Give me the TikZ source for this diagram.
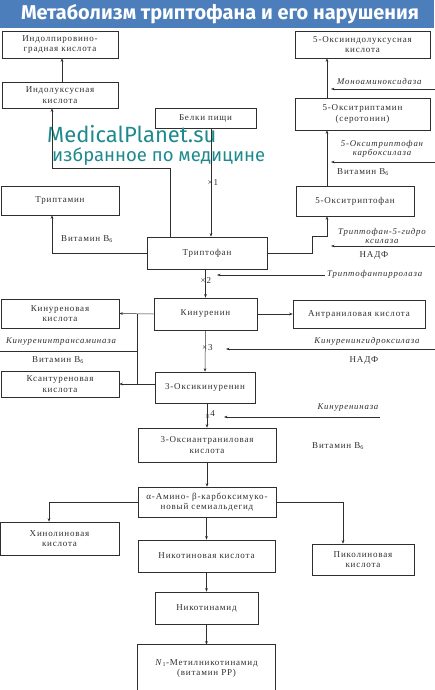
\documentclass[tikz,border=0pt]{standalone}
\usepackage{fontspec}
\usepackage{graphicx}
\setmainfont{Liberation Serif}[LetterSpace=9]
\newfontfamily\titlefont{Fira Sans}
\newfontfamily\wmfont{Fira Sans}
\usetikzlibrary{arrows.meta}
\definecolor{banner}{HTML}{4C7EBC}
\definecolor{ink}{HTML}{2E2E2E}
\definecolor{wm}{HTML}{1E8A8E}
\tikzset{
  box/.style={draw=ink, line width=0.6pt, align=center, inner sep=1pt,
    font=\fontsize{9}{10.5}\selectfont, text=ink},
  conn/.style={draw=ink, line width=0.5pt},
  arr/.style={conn, -{Stealth[length=3.5pt,width=2.6pt]}},
  enz/.style={font=\fontsize{8.8}{9}\selectfont\itshape, text=ink, inner sep=0pt, align=center},
  note/.style={font=\fontsize{9}{10}\selectfont, text=ink, inner sep=0pt, align=center},
  xlab/.style={font=\fontsize{9}{10}\selectfont, text=ink, inner sep=0pt, anchor=west},
}
\begin{document}
\begin{tikzpicture}[x=1pt,y=-1pt]
\useasboundingbox (0,0) rectangle (434,690);
% banner
\fill[banner] (0,0) rectangle (434,28);
\node[text=white, inner sep=0pt] (title) at (220,14)
  {\resizebox{398pt}{!}{\titlefont\bfseries Метаболизм триптофана и его нарушения}};

% boxes
\node[box, minimum width=116pt, minimum height=27pt] (ipvk) at (60,44.5) {Индолпировино-\\градная кислота};
\node[box, minimum width=116pt, minimum height=26pt] (iuk) at (60,95) {Индолуксусная\\кислота};
\node[box, minimum width=101pt, minimum height=20pt] (belki) at (205.5,118) {Белки пищи};
\node[box, minimum width=135pt, minimum height=27pt] (oiuk) at (362.5,44.5) {5-Оксииндолуксусная\\кислота};
\node[box, minimum width=135pt, minimum height=32pt] (otam) at (362.5,114) {5-Окситриптамин\\(серотонин)};
\node[box, minimum width=118pt, minimum height=30pt] (otf) at (355,201) {5-Окситриптофан};
\node[box, minimum width=118pt, minimum height=29pt] (tam) at (60,200.5) {Триптамин};
\node[box, minimum width=120pt, minimum height=32pt] (trp) at (207,253) {Триптофан};
\node[box, minimum width=103pt, minimum height=32pt] (kin) at (205.5,314) {Кинуренин};
\node[box, minimum width=118pt, minimum height=29pt] (kinac) at (60,313.5) {Кинуреновая\\кислота};
\node[box, minimum width=132pt, minimum height=28pt] (antr) at (359,314) {Антраниловая кислота};
\node[box, minimum width=118pt, minimum height=26pt] (xant) at (60,384) {Ксантуреновая\\кислота};
\node[box, minimum width=100pt, minimum height=31pt] (okin) at (205,387.5) {3-Оксикинуренин};
\node[box, minimum width=138pt, minimum height=34pt] (oant) at (207,445) {3-Оксиантраниловая\\кислота};
\node[box, minimum width=138pt, minimum height=30pt] (amino) at (207,502) {α-Амино- β-карбоксимуко-\\новый семиальдегид};
\node[box, minimum width=119pt, minimum height=33pt] (hin) at (59.5,538.5) {Хинолиновая\\кислота};
\node[box, minimum width=137pt, minimum height=32pt] (nik) at (206.5,556) {Никотиновая кислота};
\node[box, minimum width=102pt, minimum height=31pt] (pik) at (363,559.5) {Пиколиновая\\кислота};
\node[box, minimum width=103pt, minimum height=32pt] (nikam) at (206.5,608) {Никотинамид};
\node[box, draw=none, minimum width=137pt, minimum height=47pt] (metnik) at (206.5,668.5)
  {\textit{N}\textsubscript{1}-Метилникотинамид\\(витамин PP)};
\draw[conn, line width=0.6pt] (metnik.south west) -- (metnik.north west) -- (metnik.north east) -- (metnik.south east);

% watermark
\node[text=wm, inner sep=0pt, anchor=west] (wm1) at (47,134) {\wmfont\fontsize{22}{23}\selectfont MedicalPlanet.su};
\node[text=wm, inner sep=0pt, anchor=west] (wm2) at (52,157) {\wmfont\fontsize{18.5}{19}\selectfont избранное по медицине};

% helper coordinates
\coordinate (jL) at (52,168);
\coordinate (jR) at (170,168);
\coordinate (cx) at (211,0);
\coordinate (c62) at (62,0);
\coordinate (r1) at (312,236);
\coordinate (r2) at (327,236);
\coordinate (k1) at (137,314);
\coordinate (k2) at (137,384);
\coordinate (h1) at (49,0);
\coordinate (p1) at (343,0);

% ---- left branch
\draw[arr] (iuk.north -| c62) -- (ipvk.south -| c62);
\draw[arr] (trp.north -| jR) -- (jR) -- (jL) -- (iuk.south -| jL);
\draw[arr] (trp.west) -- (trp.west -| jL) -- (tam.south -| jL);
\node[note] (vb1) at (87,239) {Витамин B\textsubscript{6}};
\draw[arr] (belki.south -| cx) -- (trp.north -| cx);
\node[xlab] (x1) at (207.5,183) {×1};

% ---- right branch
\draw[arr] (trp.east) -- (trp.east -| r1) -- (r1) -- (r2) -- (otf.south -| r2);
\draw[arr] (otf.north -| r2) -- (otam.south -| r2);
\draw[arr] (otam.north -| r2) -- (oiuk.south -| r2);
% enzymes right
\coordinate (e1a) at (436,89); \coordinate (e1b) at (331,89);
\draw[arr] (e1a) -- (e1b);
\node[enz, anchor=west] (en1) at (337,81) {Моноаминоксидаза};
\node[enz] (en2) at (382,149) {5-Окситриптофан\\карбоксилаза};
\coordinate (e2a) at (436,162); \coordinate (e2b) at (331,162);
\draw[arr] (e2a) -- (e2b);
\node[note] (vb2) at (363,172) {Витамин B\textsubscript{6}};
\node[enz] (en3) at (382,236) {Триптофан-5-гидро\\ксилаза};
\coordinate (e3a) at (436,246); \coordinate (e3b) at (331,246);
\draw[arr] (e3a) -- (e3b);
\node[note] (nadf1) at (374,255) {НАДФ};

% ---- kynurenine
\draw[arr] (trp.south -| kin.north) -- (kin.north);
\node[xlab] (x2) at (200.5,281) {×2};
\coordinate (e4a) at (325,275); \coordinate (e4b) at (217,275);
\draw[arr] (e4a) -- (e4b);
\node[enz, anchor=west] (en4) at (327,274) {Триптофанпирролаза};
\draw[arr] (kin.west) -- (kinac.east);
\draw[arr] (kin.east) -- (antr.west);
\draw[conn] (k1) -- (k2);
\draw[arr] (okin.west |- xant.east) -- (xant.east);
\node[enz] (en5) at (61,342) {Кинуренинтрансаминаза};
\coordinate (e5a) at (0,351);
\draw[conn] (e5a) -- (e5a -| k1);
\node[note] (vb3) at (58,360) {Витамин B\textsubscript{6}};

\draw[arr] (kin.south) -- (okin.north);
\node[xlab] (x3) at (202,348) {×3};
\coordinate (e6a) at (436,349); \coordinate (e6b) at (226,349);
\draw[arr] (e6a) -- (e6b);
\node[enz] (en6) at (367,341) {Кинуренингидроксилаза};
\node[note] (nadf2) at (364,360) {НАДФ};

\draw[arr] (okin.south -| oant.north) -- (oant.north);
\node[xlab] (x4) at (205,415) {×\raisebox{3pt}{4}};
\coordinate (e7a) at (380,417); \coordinate (e7b) at (224,417);
\draw[arr] (e7a) -- (e7b);
\node[enz] (en7) at (348,408) {Кинурениназа};
\node[note] (vb4) at (338,446) {Витамин B\textsubscript{6}};

% ---- lower chain
\draw[arr] (oant.south) -- (amino.north);
\draw[arr] (amino.west) -- (amino.west -| h1) -- (hin.north -| h1);
\draw[arr] (amino.east) -- (amino.east -| p1) -- (pik.north -| p1);
\draw[arr] (amino.south -| nik.north) -- (nik.north);
\draw[arr] (nik.south -| nikam.north) -- (nikam.north);
\draw[arr] (nikam.south) -- (metnik.north -| nikam.south);
\end{tikzpicture}
\end{document}
